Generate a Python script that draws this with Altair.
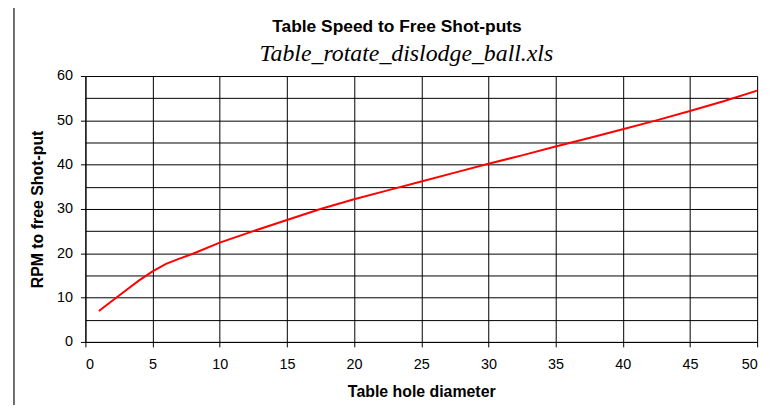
import altair as alt
import pandas as pd

diameter = [1, 2, 3, 4, 5, 6, 7, 8, 10, 12.5, 15, 17.5, 20, 22.5, 25, 27.5, 30,
            32.5, 35, 37.5, 40, 42.5, 45, 47.5, 50]
rpm = [7.0, 9.3, 11.6, 13.9, 15.9, 17.6, 18.8, 19.9, 22.4, 25.0, 27.5, 30.0, 32.2,
       34.2, 36.2, 38.2, 40.2, 42.1, 44.1, 46.0, 48.0, 50.0, 52.1, 54.3, 56.7]
x_ticks = list(range(0, 51, 5))
y_grid = list(range(0, 61, 5))
title_text = ["Table Speed to Free Shot-puts"]
subtitle_text = ["Table_rotate_dislodge_ball.xls"]

df = pd.DataFrame({"d": diameter, "rpm": rpm})

W, H = 677, 268
FONT = "Liberation Sans"

line = alt.Chart(df).mark_line(color="#ff0000", strokeWidth=2).encode(
    x=alt.X("d:Q", scale=alt.Scale(domain=[0, 50], nice=False),
            axis=alt.Axis(values=x_ticks, title="Table hole diameter", grid=True,
                          gridColor="#000000", gridWidth=1, gridOpacity=1,
                          domainColor="#000000", tickColor="#000000", tickSize=5,
                          labelPadding=11, labelFont=FONT, labelFontSize=14.5,
                          labelColor="#000000", titleFont=FONT, titleFontSize=16,
                          titleFontWeight="bold", titleColor="#000000",
                          titlePadding=12)),
    y=alt.Y("rpm:Q", scale=alt.Scale(domain=[0, 60], nice=False),
            axis=alt.Axis(values=y_grid, title="RPM to free Shot-put", grid=True,
                          gridColor="#000000", gridWidth=1, gridOpacity=1,
                          labelExpr="datum.value % 10 == 0 ? datum.label : ''",
                          tickOpacity={"condition": {"test": "datum.value % 10 == 0", "value": 1}, "value": 0},
                          domainColor="#000000", tickColor="#000000", tickSize=5,
                          labelPadding=8, labelFont=FONT, labelFontSize=14.5,
                          labelColor="#000000", titleFont=FONT, titleFontSize=16,
                          titleFontWeight="bold", titleColor="#000000",
                          titlePadding=11)),
)

edge = alt.Chart(pd.DataFrame({"a": [0]})).mark_rule(color="#404040", strokeWidth=1.5).encode(
    x=alt.value(-72), y=alt.value(-80), y2=alt.value(H + 90)
)

title = alt.Chart(pd.DataFrame({"t": title_text})).mark_text(
    font=FONT, fontSize=17.5, fontWeight="bold", color="#000000",
    align="center", baseline="alphabetic"
).encode(text="t:N", x=alt.value(314), y=alt.value(-44))

subtitle = alt.Chart(pd.DataFrame({"t": subtitle_text})).mark_text(
    font="Liberation Serif", fontSize=24, fontStyle="italic", color="#000000",
    align="center", baseline="alphabetic"
).encode(text="t:N", x=alt.value(323.5), y=alt.value(-15))

chart = alt.layer(edge, line, title, subtitle).properties(
    width=W, height=H,
    autosize=alt.AutoSizeParams(type="none"),
    padding={"left": 78, "top": 67, "right": 18, "bottom": 62},
).configure_view(stroke="#808080", strokeWidth=1.5).configure(background="white")

chart.save("out.html", embed_options={"renderer": "svg", "actions": False})
